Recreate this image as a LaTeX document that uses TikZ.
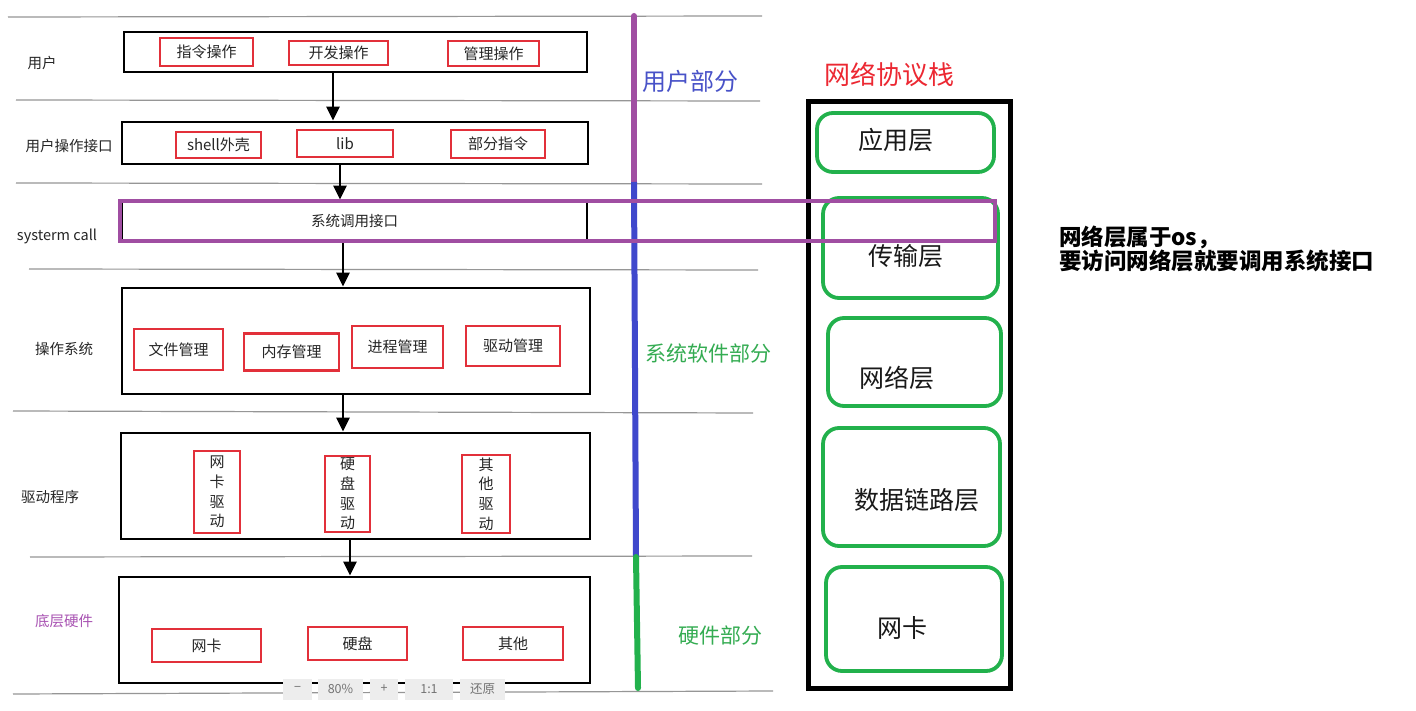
\documentclass[tikz,border=0pt]{standalone}
\usepackage{fontspec}
\setmainfont{Noto Sans CJK SC}
\usetikzlibrary{arrows.meta}
\definecolor{bred}{RGB}{226,48,58}
\definecolor{bpurple}{RGB}{160,78,162}
\definecolor{bblue}{RGB}{63,72,204}
\definecolor{bgreen}{RGB}{34,177,76}
\definecolor{tblue}{RGB}{72,82,200}
\definecolor{tgreen}{RGB}{52,172,82}
\definecolor{tpurple}{RGB}{168,82,178}
\definecolor{tred}{RGB}{236,40,50}
\definecolor{sepgray}{RGB}{150,150,150}
\tikzset{
  sepline/.style={draw=sepgray, line width=1.2pt},
  layerbox/.style={draw=black, line width=2.8pt, inner sep=0pt, fill=none},
  redbox/.style={draw=bred, line width=2.3pt, inner sep=0pt, font=\fontsize{15}{18}\selectfont, text=black!85},
  vredbox/.style={redbox, align=center, font=\fontsize{15}{19.7}\selectfont},
  sidelabel/.style={font=\fontsize{14.5}{17}\selectfont, text=black!85},
  biglabel/.style={font=\fontsize{22}{26}\selectfont},
  greenbox/.style={draw=bgreen, line width=3.8pt, rounded corners=16pt, inner sep=0pt},
  greentext/.style={font=\fontsize{25}{30}\selectfont, text=black!90},
  arr/.style={line width=2.6pt, -{Triangle[length=14pt,width=13pt]}},
  toolbtn/.style={fill=black!7, draw=none, inner sep=0pt, minimum height=21pt, font=\fontsize{12.5}{14}\selectfont, text=black!55},
}
\begin{document}
\begin{tikzpicture}[x=1pt, y=-1pt]
\useasboundingbox (0,0) rectangle (1416,711);
\fill[white] (0,0) rectangle (1416,711);

% separator lines
\draw[sepline] (8,17) -- (762,16);
\draw[sepline] (16,100) -- (760,101);
\draw[sepline] (16,183) -- (762,184);
\draw[sepline] (29,269) -- (758,270);
\draw[sepline] (13,411) -- (753,413);
\draw[sepline] (30,557) -- (752,556);
\draw[sepline] (13,694) -- (773,691);

% left labels
\node[sidelabel] (l1) at (42,63) {用户};
\node[sidelabel] (l2) at (69,146) {用户操作接口};
\node[sidelabel] (l3) at (57,236) {systerm call};
\node[sidelabel] (l4) at (64,349) {操作系统};
\node[sidelabel] (l5) at (50,497) {驱动程序};
\node[sidelabel, text=tpurple] (l6) at (64,621) {底层硬件};

% layer boxes
\node[layerbox, minimum width=463pt, minimum height=40pt] (ub) at (355.5,52) {};
\node[layerbox, minimum width=466pt, minimum height=42pt] (ui) at (355,143) {};
\node[layerbox, minimum width=465pt, minimum height=40pt, font=\fontsize{14.5}{17}\selectfont, text=black!85] (sc) at (354.5,221) {系统调用接口};
\node[layerbox, minimum width=468pt, minimum height=106pt] (os) at (356,341) {};
\node[layerbox, minimum width=469pt, minimum height=106pt] (dr) at (355.5,486) {};
\node[layerbox, minimum width=471pt, minimum height=106pt] (hw) at (354.5,630) {};

% red boxes
\node[redbox, minimum width=93pt, minimum height=28pt] (r1) at (206.5,52) {指令操作};
\node[redbox, minimum width=99pt, minimum height=24pt] (r2) at (338.5,53) {开发操作};
\node[redbox, minimum width=91pt, minimum height=25pt] (r3) at (493.5,53.5) {管理操作};
\node[redbox, minimum width=85pt, minimum height=26pt] (r4) at (218.5,145) {shell外壳};
\node[redbox, minimum width=96pt, minimum height=27pt] (r5) at (345,143.5) {lib};
\node[redbox, minimum width=94pt, minimum height=28pt] (r6) at (498,144) {部分指令};
\node[redbox, minimum width=89pt, minimum height=41pt] (r7) at (178.5,349.5) {文件管理};
\node[redbox, minimum width=95pt, minimum height=37pt] (r8) at (291.5,352) {内存管理};
\node[redbox, minimum width=91pt, minimum height=42pt] (r9) at (397.5,347) {进程管理};
\node[redbox, minimum width=94pt, minimum height=40pt] (r10) at (513,346) {驱动管理};
\node[vredbox, minimum width=46pt, minimum height=82pt] (r11) at (217,492) {网\\卡\\驱\\动};
\node[vredbox, minimum width=45pt, minimum height=76pt] (r12) at (347.5,494) {硬\\盘\\驱\\动};
\node[vredbox, minimum width=48pt, minimum height=78pt] (r13) at (486,494) {其\\他\\驱\\动};
\node[redbox, minimum width=109pt, minimum height=33pt] (r14) at (206.5,645.5) {网卡};
\node[redbox, minimum width=99pt, minimum height=33pt] (r15) at (357.5,643.5) {硬盘};
\node[redbox, minimum width=100pt, minimum height=33pt] (r16) at (513,643.5) {其他};

% arrows
\coordinate (ax1) at (333,0);
\coordinate (ax2) at (340,0);
\coordinate (ax3) at (343,0);
\coordinate (ax4) at (343,0);
\coordinate (ax5) at (350,0);
\draw[arr] (ub.south -| ax1) -- (ui.north -| ax1);
\draw[arr] (ui.south -| ax2) -- (sc.north -| ax2);
\draw[arr] (sc.south -| ax3) -- (os.north -| ax3);
\draw[arr] (os.south -| ax4) -- (dr.north -| ax4);
\draw[arr] (dr.south -| ax5) -- (hw.north -| ax5);

% vertical partition line
\coordinate (v0) at (634,16);
\coordinate (v1) at (634,182);
\coordinate (v2) at (636,557);
\coordinate (v3) at (638,688);
\draw[bpurple, line width=6pt, line cap=round] (v0) -- (v1);
\draw[bblue, line width=6pt] (v1) -- (v2);
\draw[bgreen, line width=6pt, line cap=round] (v2) -- (v3);

% part labels
\node[biglabel, text=tblue, font=\fontsize{24}{28}\selectfont] (p1) at (690,81) {用户部分};
\node[biglabel, text=tgreen, font=\fontsize{21}{25}\selectfont] (p2) at (708,354) {系统软件部分};
\node[biglabel, text=tgreen, font=\fontsize{21}{25}\selectfont] (p3) at (720,636) {硬件部分};

% network protocol stack
\node[text=tred, font=\fontsize{26}{30}\selectfont] (nt) at (889,75) {网络协议栈};
\node[draw=black, line width=5pt, minimum width=202pt, minimum height=586pt, inner sep=0pt] (stack) at (909,395) {};
\node[greenbox, minimum width=177pt, minimum height=59pt] (g1) at (905.5,142.5) {};
\node[greenbox, minimum width=175pt, minimum height=100pt] (g2) at (910.5,248) {};
\node[greenbox, minimum width=173pt, minimum height=88pt] (g3) at (914.5,362) {};
\node[greenbox, minimum width=177pt, minimum height=118pt] (g4) at (911.5,487) {};
\node[greenbox, minimum width=176pt, minimum height=104pt] (g5) at (914,619) {};
\node[greentext] (t1) at (896,140) {应用层};
\node[greentext] (t2) at (906,256) {传输层};
\node[greentext] (t3) at (897,378) {网络层};
\node[greentext] (t4) at (917,500) {数据链路层};
\node[greentext] (t5) at (902,628) {网卡};

% purple system-call band
\node[draw=bpurple, line width=4pt, minimum width=875pt, minimum height=40pt, inner sep=0pt] (band) at (557.5,221) {};

% annotation
\node[anchor=west, align=left, font=\fontsize{22.5}{24}\selectfont\bfseries, inner sep=0pt] (note) at (1059,249) {网络层属于os，\\要访问网络层就要调用系统接口};

% zoom toolbar
\node[toolbtn, minimum width=29pt] (b1) at (297.5,689) {−};
\node[toolbtn, minimum width=45pt] (b2) at (340.5,689) {80\%};
\node[toolbtn, minimum width=28pt] (b3) at (384,689) {+};
\node[toolbtn, minimum width=48pt] (b4) at (429,689) {1:1};
\node[toolbtn, minimum width=45pt] (b5) at (482.5,689) {还原};
\end{tikzpicture}
\end{document}
